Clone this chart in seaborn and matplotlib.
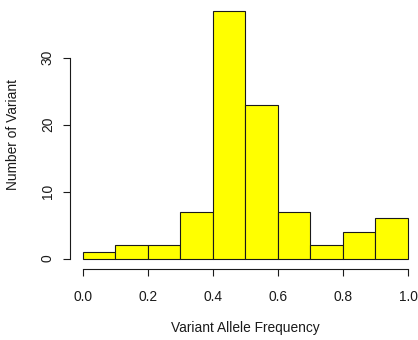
import matplotlib
matplotlib.use("Agg")
import matplotlib.pyplot as plt
import seaborn as sns
import numpy as np
import pandas as pd

# Data
bin_edges = [0.0, 0.1, 0.2, 0.3, 0.4, 0.5, 0.6, 0.7, 0.8, 0.9, 1.0]
bin_counts = [1, 2, 2, 7, 37, 23, 7, 2, 4, 6]
x_ticks = [0.0, 0.2, 0.4, 0.6, 0.8, 1.0]
x_tick_labels = ["0.0", "0.2", "0.4", "0.6", "0.8", "1.0"]
y_ticks = [0, 10, 20, 30]
y_tick_labels = ["0", "10", "20", "30"]

sns.set_style("white")
plt.rcParams['font.family'] = ['Liberation Sans', 'DejaVu Sans']

mids = [(a + b) / 2 for a, b in zip(bin_edges[:-1], bin_edges[1:])]
df = pd.DataFrame({"vaf": mids, "count": bin_counts})

fig = plt.figure(figsize=(4.18, 3.40), dpi=100)
ax = fig.add_axes([0.1667, 0.21, 0.8404, 0.7876])

sns.histplot(data=df, x="vaf", weights="count", bins=bin_edges, ax=ax,
             color="#FFFF00", alpha=1.0, edgecolor="#1a1a1a", linewidth=0.8)

ax.set_xlim(-0.04, 1.04)
ax.set_ylim(-1.48, 38.48)

for s in ["top", "right"]:
    ax.spines[s].set_visible(False)
ax.spines["left"].set_bounds(0, 30)
ax.spines["bottom"].set_bounds(0, 1)
for s in ["left", "bottom"]:
    ax.spines[s].set_color("#1a1a1a")
    ax.spines[s].set_linewidth(0.8)

ax.set_xticks(x_ticks)
ax.set_xticklabels(x_tick_labels)
ax.set_yticks(y_ticks)
ax.set_yticklabels(y_tick_labels, rotation=90, va="center")
ax.tick_params(axis="both", which="major", direction="out", length=5.2,
               width=0.8, color="#1a1a1a", labelsize=9.9, labelcolor="#1a1a1a",
               bottom=True, left=True)
ax.tick_params(axis="x", pad=10.5)
ax.tick_params(axis="y", pad=5.5)

ax.set_xlabel("Variant Allele Frequency", fontsize=9.9, color="#1a1a1a", labelpad=14)
ax.set_ylabel("Number of Variant", fontsize=9.9, color="#1a1a1a", labelpad=14)
ax.yaxis.set_label_coords(13 / 418 * (418 / (0.8404 * 418)) - 0.1667 / 0.8404, 0.5)
ax.xaxis.set_label_coords(0.5, -(328 - 268.6) / (0.7876 * 340))
ax.xaxis.label.set_va("center")
ax.yaxis.label.set_va("center")
ax.xaxis.set_label_coords((245.3 - 69.7) / (0.8404 * 418), -(328 - 268.6) / (0.7876 * 340))
ax.grid(False)

fig.savefig("out.png", dpi=100)
